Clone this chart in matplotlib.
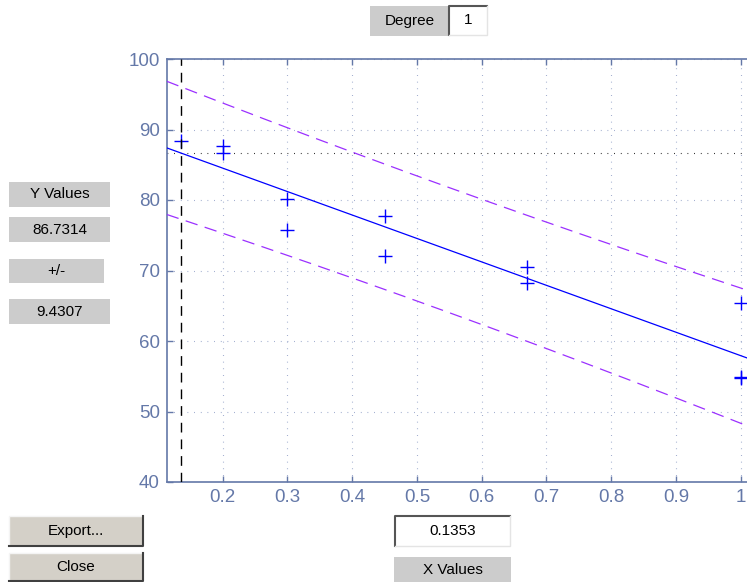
import numpy as np
import matplotlib
matplotlib.use('Agg')
import matplotlib.pyplot as plt
from matplotlib.patches import Rectangle

plt.rcParams['font.family'] = ['Liberation Sans', 'DejaVu Sans']

# observations
x_obs = [0.1353, 0.2, 0.2, 0.3, 0.3, 0.45, 0.45, 0.67, 0.67, 1.0, 1.0, 1.0]
y_obs = [88.4, 87.7, 86.6, 80.2, 75.7, 77.7, 72.1, 70.5, 68.2, 65.4, 54.9, 54.7]

degree = 1
x_current = 0.1353
y_text = '86.7314'
delta_text = '9.4307'
t_crit = 2.2281  # 95%, df = n - 2

x_ticks = [0.2, 0.3, 0.4, 0.5, 0.6, 0.7, 0.8, 0.9, 1.0]
x_ticklabels = ['0.2', '0.3', '0.4', '0.5', '0.6', '0.7', '0.8', '0.9', '1']
y_ticks = [40, 50, 60, 70, 80, 90, 100]

W, H = 747, 582
AX_COL = '#6478a8'
GRID_COL = '#8c9cc4'

x = np.array(x_obs)
y = np.array(y_obs)
p = np.polyfit(x, y, degree)
resid = y - np.polyval(p, x)
n = len(x)
s = np.sqrt(np.sum(resid ** 2) / (n - degree - 1))
xbar = x.mean()
sxx = np.sum((x - xbar) ** 2)

pad = 0.025 * (x.max() - x.min())
xlo, xhi = x.min() - pad, x.max() + pad
xs = np.linspace(xlo, xhi, 200)
yfit = np.polyval(p, xs)
half = t_crit * s * np.sqrt(1 + 1 / n + (xs - xbar) ** 2 / sxx)
y_cur = np.polyval(p, x_current)

fig = plt.figure(figsize=(W / 100, H / 100), dpi=100, facecolor='white')


def px(l, t, r, b):
    return [l / W, 1 - b / H, (r - l) / W, (b - t) / H]


ax = fig.add_axes(px(166.7, 59, 754.7, 482))
ax.set_xlim(xlo, xhi)
ax.set_ylim(40, 100)

ax.plot(xs, yfit, color='#0000ff', lw=0.9, zorder=3)
ax.plot(xs, yfit + half, color='#9b30ff', lw=0.9, dashes=(10, 6), zorder=3)
ax.plot(xs, yfit - half, color='#9b30ff', lw=0.9, dashes=(10, 6), zorder=3)
ax.plot(x, y, '+', color='#0000ff', ms=9.5, mew=1.0, zorder=4)
ax.axvline(x_current, color='black', lw=1.0, dashes=(7, 5), zorder=5)
ax.axhline(y_cur, color='black', lw=0.8, dashes=(0.7, 5.3), zorder=2)

ax.set_xticks(x_ticks)
ax.set_xticklabels(x_ticklabels)
ax.set_yticks(y_ticks)
ax.grid(True, color=GRID_COL, lw=0.8, dashes=(0.7, 5.3))
ax.tick_params(direction='in', length=4, width=1, colors=AX_COL, labelsize=13.5,
               top=True, right=True, pad=5)
for sp in ax.spines.values():
    sp.set_color(AX_COL)
    sp.set_linewidth(1.2)

# ui controls
ui = fig.add_axes([0, 0, 1, 1])
ui.set_xlim(0, W)
ui.set_ylim(H, 0)
ui.axis('off')
ui.patch.set_alpha(0)

FS = 11


def label_box(l, t, r, b, text):
    ui.add_patch(Rectangle((l, t), r - l, b - t, facecolor='#cccccc', edgecolor='none'))
    ui.text((l + r) / 2, (t + b) / 2, text, ha='center', va='center', fontsize=FS, color='black')


def edit_box(l, t, r, b, text):
    ui.add_patch(Rectangle((l, t), r - l, b - t, facecolor='white', edgecolor='none'))
    ui.plot([l, l, r], [b, t, t], color='#555555', lw=1.5)
    ui.plot([l, r, r], [b, b, t], color='#e4e4e4', lw=1.0)
    ui.text((l + r) / 2, (t + b) / 2, text, ha='center', va='center', fontsize=FS, color='black')


def button(l, t, r, b, text):
    ui.add_patch(Rectangle((l, t), r - l, b - t, facecolor='#d4d0c8', edgecolor='none'))
    ui.plot([l, l, r], [b, t, t], color='#f4f4f4', lw=1.0)
    ui.plot([l, r, r], [b, b, t], color='#404040', lw=1.5)
    ui.text((l + r) / 2, (t + b) / 2, text, ha='center', va='center', fontsize=FS, color='black')


label_box(370, 6, 449, 36, 'Degree')
edit_box(449, 6, 487, 35, str(degree))
label_box(9, 182, 110, 207, 'Y Values')
label_box(9, 217, 110, 242, y_text)
label_box(9, 259, 104, 283, '+/-')
label_box(9, 299, 110, 324, delta_text)
button(9, 516, 143, 546, 'Export...')
button(9, 553, 143, 581, 'Close')
edit_box(395, 516, 510, 546, '%.4f' % x_current)
label_box(394, 557, 511, 582, 'X Values')

fig.savefig('out.png', dpi=100)
